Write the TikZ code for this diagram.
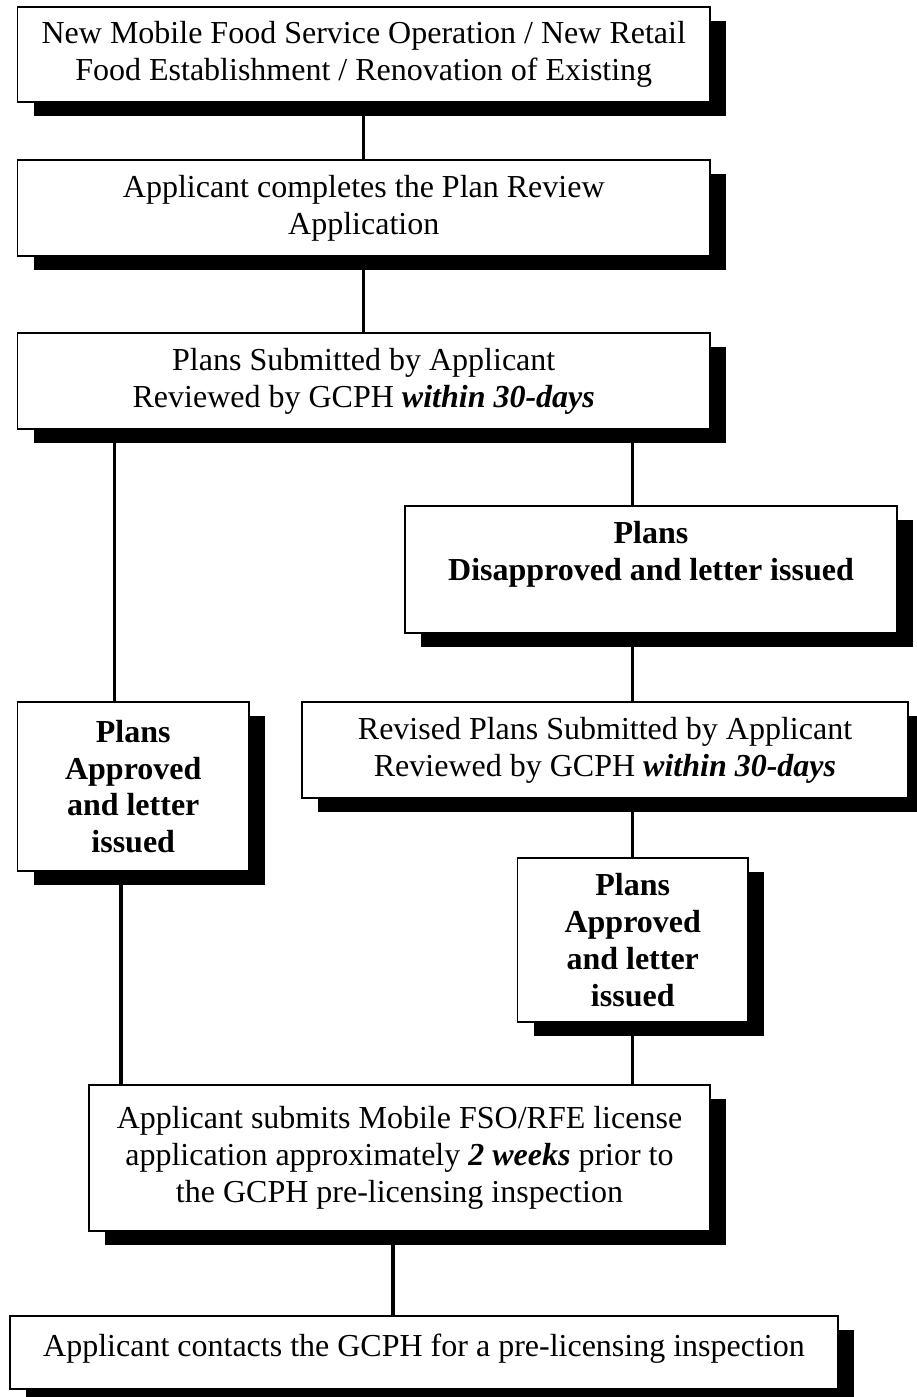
\documentclass[tikz,border=0pt]{standalone}
\usepackage{fontspec}
\setmainfont{Liberation Serif}
\usetikzlibrary{shadows}
\begin{document}
\begin{tikzpicture}[x=0.5pt,y=-0.5pt,
  flowbox/.style={draw=black,line width=0.7pt,fill=white,inner sep=0pt,align=center,
    font=\fontsize{16pt}{18.4pt}\selectfont,
    drop shadow={shadow xshift=8pt,shadow yshift=-7pt,fill=black,opacity=1}},
  link/.style={draw=black,line width=1.6pt}]
\path[use as bounding box,fill=white] (0,0) rectangle (916,1397);

\node[flowbox,minimum width=346.25pt,minimum height=47.5pt] (start) at (363.75,54.5)
  {New Mobile Food Service Operation / New Retail\\Food Establishment / Renovation of Existing};

\node[flowbox,minimum width=346.25pt,minimum height=48pt] (appl) at (363.75,208)
  {Applicant completes the Plan Review\\Application};

\node[flowbox,minimum width=346.25pt,minimum height=48pt] (subm) at (363.75,381)
  {Plans Submitted by Applicant\\Reviewed by GCPH \textbf{\textit{within 30-days}}};

\node[flowbox,minimum width=246pt,minimum height=63.5pt] (disap) at (651,569.5)
  {\textbf{Plans}\\\textbf{Disapproved and letter issued}\\\mbox{}};

\node[flowbox,minimum width=115.75pt,minimum height=84.5pt] (apprL) at (133.25,786.5)
  {\textbf{Plans}\\\textbf{Approved}\\\textbf{and letter}\\\textbf{issued}};

\node[flowbox,minimum width=303pt,minimum height=48pt] (revis) at (605,750)
  {Revised Plans Submitted by Applicant\\Reviewed by GCPH \textbf{\textit{within 30-days}}};

\node[flowbox,minimum width=115.25pt,minimum height=82pt] (apprR) at (632.75,940)
  {\textbf{Plans}\\\textbf{Approved}\\\textbf{and letter}\\\textbf{issued}};

\node[flowbox,minimum width=310.5pt,minimum height=73pt] (lic) at (399.5,1158)
  {Applicant submits Mobile FSO/RFE license\\application approximately \textbf{\textit{2 weeks}} prior to\\the GCPH pre-licensing inspection};

\node[flowbox,minimum width=414pt,minimum height=36.5pt,text depth=7pt] (insp) at (424,1352.5)
  {Applicant contacts the GCPH for a pre-licensing inspection};

% connectors
\draw[link] (start.south) -- (appl.north);
\draw[link] (appl.south) -- (subm.north);
\draw[link] ([xshift=-9.4pt]apprL.north) -- ([xshift=-9.4pt]apprL.north |- subm.south);
\draw[link] (subm.south -| apprR.north) -- (disap.north -| apprR.north);
\draw[link] (disap.south -| apprR.north) -- (revis.north -| apprR.north);
\draw[link] (revis.south -| apprR.north) -- (apprR.north);
\draw[link] (apprR.south) -- (apprR.south |- lic.north);
\draw[link] ([xshift=-6.1pt]apprL.south) -- ([xshift=-6.1pt]apprL.south |- lic.north);
\draw[link] ([xshift=-3.25pt]lic.south) -- ([xshift=-3.25pt]lic.south |- insp.north);
\end{tikzpicture}
\end{document}
